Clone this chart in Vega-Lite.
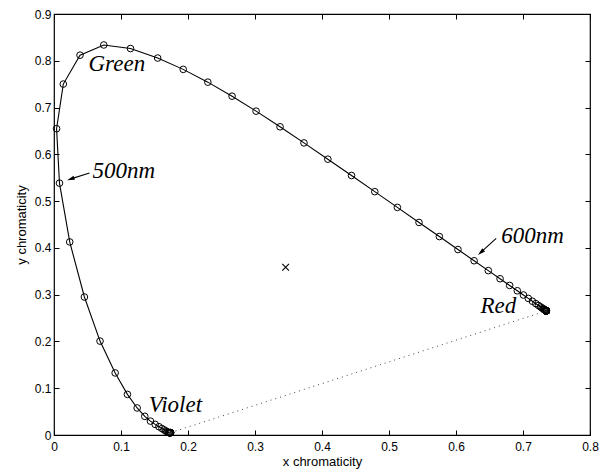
{
  "$schema": "https://vega.github.io/schema/vega-lite/v6.json",
  "width": 536,
  "height": 421,
  "autosize": {"type": "none"},
  "padding": {"left": 54, "top": 14, "right": 23, "bottom": 38},
  "background": "white",
  "datasets": {
    "locus": [
      {"nm": 380, "x": 0.17411, "y": 0.00496}, {"nm": 385, "x": 0.17401, "y": 0.00498},
      {"nm": 390, "x": 0.17380, "y": 0.00492}, {"nm": 395, "x": 0.17356, "y": 0.00492},
      {"nm": 400, "x": 0.17334, "y": 0.00480}, {"nm": 405, "x": 0.17302, "y": 0.00478},
      {"nm": 410, "x": 0.17258, "y": 0.00480}, {"nm": 415, "x": 0.17209, "y": 0.00483},
      {"nm": 420, "x": 0.17141, "y": 0.00510}, {"nm": 425, "x": 0.17030, "y": 0.00579},
      {"nm": 430, "x": 0.16888, "y": 0.00690}, {"nm": 435, "x": 0.16690, "y": 0.00856},
      {"nm": 440, "x": 0.16441, "y": 0.01086}, {"nm": 445, "x": 0.16110, "y": 0.01379},
      {"nm": 450, "x": 0.15664, "y": 0.01771}, {"nm": 455, "x": 0.15099, "y": 0.02274},
      {"nm": 460, "x": 0.14396, "y": 0.02970}, {"nm": 465, "x": 0.13550, "y": 0.03988},
      {"nm": 470, "x": 0.12412, "y": 0.05780}, {"nm": 475, "x": 0.10959, "y": 0.08684},
      {"nm": 480, "x": 0.09129, "y": 0.13270}, {"nm": 485, "x": 0.06871, "y": 0.20072},
      {"nm": 490, "x": 0.04539, "y": 0.29498}, {"nm": 495, "x": 0.02346, "y": 0.41270},
      {"nm": 500, "x": 0.00817, "y": 0.53842}, {"nm": 505, "x": 0.00386, "y": 0.65482},
      {"nm": 510, "x": 0.01387, "y": 0.75019}, {"nm": 515, "x": 0.03885, "y": 0.81202},
      {"nm": 520, "x": 0.07430, "y": 0.83380}, {"nm": 525, "x": 0.11416, "y": 0.82621},
      {"nm": 530, "x": 0.15472, "y": 0.80586}, {"nm": 535, "x": 0.19288, "y": 0.78163},
      {"nm": 540, "x": 0.22962, "y": 0.75433}, {"nm": 545, "x": 0.26578, "y": 0.72432},
      {"nm": 550, "x": 0.30160, "y": 0.69231}, {"nm": 555, "x": 0.33736, "y": 0.65885},
      {"nm": 560, "x": 0.37310, "y": 0.62445}, {"nm": 565, "x": 0.40874, "y": 0.58961},
      {"nm": 570, "x": 0.44406, "y": 0.55471}, {"nm": 575, "x": 0.47877, "y": 0.52020},
      {"nm": 580, "x": 0.51249, "y": 0.48659}, {"nm": 585, "x": 0.54479, "y": 0.45443},
      {"nm": 590, "x": 0.57515, "y": 0.42423}, {"nm": 595, "x": 0.60293, "y": 0.39650},
      {"nm": 600, "x": 0.62704, "y": 0.37249}, {"nm": 605, "x": 0.64823, "y": 0.35139},
      {"nm": 610, "x": 0.66576, "y": 0.33401}, {"nm": 615, "x": 0.68008, "y": 0.31975},
      {"nm": 620, "x": 0.69150, "y": 0.30834}, {"nm": 625, "x": 0.70061, "y": 0.29930},
      {"nm": 630, "x": 0.70792, "y": 0.29203}, {"nm": 635, "x": 0.71403, "y": 0.28593},
      {"nm": 640, "x": 0.71903, "y": 0.28093}, {"nm": 645, "x": 0.72303, "y": 0.27695},
      {"nm": 650, "x": 0.72599, "y": 0.27401}, {"nm": 655, "x": 0.72827, "y": 0.27173},
      {"nm": 660, "x": 0.72997, "y": 0.27003}, {"nm": 665, "x": 0.73109, "y": 0.26891},
      {"nm": 670, "x": 0.73199, "y": 0.26801}, {"nm": 675, "x": 0.73272, "y": 0.26728},
      {"nm": 680, "x": 0.73342, "y": 0.26658}, {"nm": 685, "x": 0.73405, "y": 0.26595},
      {"nm": 690, "x": 0.73439, "y": 0.26561}, {"nm": 695, "x": 0.73469, "y": 0.26531},
      {"nm": 700, "x": 0.73469, "y": 0.26531}, {"nm": 705, "x": 0.73469, "y": 0.26531},
      {"nm": 710, "x": 0.73469, "y": 0.26531}, {"nm": 715, "x": 0.73469, "y": 0.26531},
      {"nm": 720, "x": 0.73469, "y": 0.26531}, {"nm": 725, "x": 0.73469, "y": 0.26531},
      {"nm": 730, "x": 0.73469, "y": 0.26531}, {"nm": 735, "x": 0.73469, "y": 0.26531},
      {"nm": 740, "x": 0.73469, "y": 0.26531}, {"nm": 745, "x": 0.73469, "y": 0.26531},
      {"nm": 750, "x": 0.73469, "y": 0.26531}, {"nm": 755, "x": 0.73469, "y": 0.26531},
      {"nm": 760, "x": 0.73469, "y": 0.26531}, {"nm": 765, "x": 0.73469, "y": 0.26531},
      {"nm": 770, "x": 0.73469, "y": 0.26531}, {"nm": 775, "x": 0.73469, "y": 0.26531},
      {"nm": 780, "x": 0.73469, "y": 0.26531}
    ],
    "purple": [
      {"nm": 780, "x": 0.73469, "y": 0.26531},
      {"nm": 380, "x": 0.17411, "y": 0.00496}
    ],
    "white": [{"x": 0.3457, "y": 0.3585}],
    "labels": [
      {"x": 0.0515, "y": 0.778, "label": "Green"},
      {"x": 0.0575, "y": 0.549, "label": "500nm"},
      {"x": 0.6675, "y": 0.4104, "label": "600nm"},
      {"x": 0.6366, "y": 0.2608, "label": "Red"},
      {"x": 0.1415, "y": 0.0485, "label": "Violet"}
    ],
    "arrows": [
      {"x": 0.0530, "y": 0.560, "x2": 0.0240, "y2": 0.547},
      {"x": 0.6600, "y": 0.4205, "x2": 0.6370, "y2": 0.3905}
    ]
  },
  "resolve": {"axis": {"x": "independent", "y": "independent"}},
  "layer": [
    {
      "data": {"name": "locus"},
      "mark": {"type": "line", "color": "black", "strokeWidth": 1.1},
      "encoding": {
        "x": {"field": "x", "type": "quantitative",
              "scale": {"domain": [0, 0.8], "nice": false, "zero": false},
              "axis": {"orient": "bottom", "title": "x chromaticity",
                       "values": [0, 0.1, 0.2, 0.3, 0.4, 0.5, 0.6, 0.7, 0.8],
                       "format": "~g", "labelPadding": 11, "titlePadding": 3}},
        "y": {"field": "y", "type": "quantitative",
              "scale": {"domain": [0, 0.9], "nice": false, "zero": false},
              "axis": {"orient": "left", "title": "y chromaticity",
                       "values": [0, 0.1, 0.2, 0.3, 0.4, 0.5, 0.6, 0.7, 0.8, 0.9],
                       "format": "~g", "labelPadding": 8, "titlePadding": 6}},
        "order": {"field": "nm", "type": "quantitative"}
      }
    },
    {
      "data": {"name": "locus"},
      "mark": {"type": "point", "shape": "circle", "filled": false, "stroke": "black", "strokeWidth": 1, "size": 44, "opacity": 1},
      "encoding": {
        "x": {"field": "x", "type": "quantitative", "axis": null},
        "y": {"field": "y", "type": "quantitative", "axis": null}
      }
    },
    {
      "data": {"name": "purple"},
      "mark": {"type": "line", "color": "#444444", "strokeWidth": 1, "strokeDash": [1, 4]},
      "encoding": {
        "x": {"field": "x", "type": "quantitative", "axis": null},
        "y": {"field": "y", "type": "quantitative", "axis": null},
        "order": {"field": "nm", "type": "quantitative"}
      }
    },
    {
      "data": {"name": "white"},
      "mark": {"type": "point", "shape": "M-1,-1L1,1M-1,1L1,-1", "filled": false, "stroke": "black", "strokeWidth": 1.1, "size": 45, "opacity": 1},
      "encoding": {
        "x": {"field": "x", "type": "quantitative", "axis": null},
        "y": {"field": "y", "type": "quantitative", "axis": null}
      }
    },
    {
      "data": {"name": "labels"},
      "mark": {"type": "text", "align": "left", "baseline": "alphabetic", "font": "Times New Roman, Times, Liberation Serif, serif", "fontStyle": "italic", "fontSize": 23, "color": "black"},
      "encoding": {
        "x": {"field": "x", "type": "quantitative", "axis": null},
        "y": {"field": "y", "type": "quantitative", "axis": null},
        "text": {"field": "label"}
      }
    },
    {
      "data": {"name": "arrows"},
      "mark": {"type": "rule", "color": "black", "strokeWidth": 1.1},
      "encoding": {
        "x": {"field": "x", "type": "quantitative", "axis": null},
        "y": {"field": "y", "type": "quantitative", "axis": null},
        "x2": {"field": "x2"},
        "y2": {"field": "y2"}
      }
    },
    {
      "data": {"values": [{"x": 0.0255, "y": 0.5475}]},
      "mark": {"type": "point", "shape": "M0,-1L0.5,0.8L-0.5,0.8Z", "filled": true, "color": "black", "size": 70, "angle": 252, "opacity": 1},
      "encoding": {
        "x": {"field": "x", "type": "quantitative", "axis": null},
        "y": {"field": "y", "type": "quantitative", "axis": null}
      }
    },
    {
      "data": {"values": [{"x": 0.6375, "y": 0.391}]},
      "mark": {"type": "point", "shape": "M0,-1L0.5,0.8L-0.5,0.8Z", "filled": true, "color": "black", "size": 70, "angle": 228, "opacity": 1},
      "encoding": {
        "x": {"field": "x", "type": "quantitative", "axis": null},
        "y": {"field": "y", "type": "quantitative", "axis": null}
      }
    },
    {
      "data": {"name": "white"},
      "mark": {"type": "point", "opacity": 0},
      "encoding": {
        "x": {"field": "x", "type": "quantitative",
              "axis": {"orient": "top", "labels": false, "title": null,
                       "values": [0, 0.1, 0.2, 0.3, 0.4, 0.5, 0.6, 0.7, 0.8]}},
        "y": {"field": "y", "type": "quantitative",
              "axis": {"orient": "right", "labels": false, "title": null,
                       "values": [0, 0.1, 0.2, 0.3, 0.4, 0.5, 0.6, 0.7, 0.8, 0.9]}}
      }
    }
  ],
  "config": {
    "view": {"stroke": "black", "strokeWidth": 1.2},
    "axis": {
      "domain": false,
      "grid": false,
      "ticks": true,
      "tickSize": -5,
      "tickColor": "black",
      "tickWidth": 1,
      "labelColor": "black",
      "labelFont": "Liberation Sans",
      "labelFontSize": 12,
      "labelFlush": false,
      "labelOverlap": false,
      "titleColor": "black",
      "titleFont": "Liberation Sans",
      "titleFontSize": 13,
      "titleFontWeight": "normal"
    }
  }
}
